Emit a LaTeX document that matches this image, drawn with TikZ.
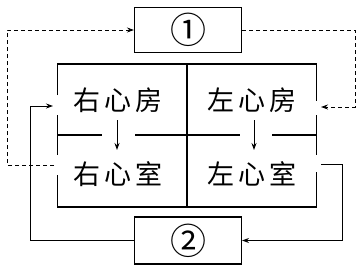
\documentclass[tikz,border=0pt]{standalone}
\usepackage{fontspec}
\newfontfamily\cjk{Noto Sans CJK SC}
\usetikzlibrary{arrows.meta}
\tikzset{
  box/.style={draw, line width=1.1pt, minimum width=107pt, minimum height=45pt, inner sep=0pt},
  wall/.style={line width=1.1pt},
  lbl/.style={inner sep=0pt, font=\cjk\fontsize{27}{27}\selectfont},
  num/.style={inner sep=0pt, font=\cjk\fontsize{36}{36}\selectfont},
  conn/.style={line width=0.9pt, -{Stealth[length=7pt,width=5pt]}},
  dconn/.style={conn, dash pattern=on 4pt off 3pt},
}
\begin{document}
\begin{tikzpicture}[x=1pt,y=-1pt]
\useasboundingbox (0,0) rectangle (362,268);
% boxes 1 and 2
\node[box] (b1) at (188,30) {};
\node[num] (n1) at (188,30) {①};
\node[box, minimum height=47pt] (b2) at (188,240.5) {};
\node[num] (n2) at (188,240.5) {②};
% heart chambers
\node[lbl] (ra) at (118,100) {右\hspace{4pt}心\hspace{4pt}房};
\node[lbl] (la) at (252,100) {左\hspace{4pt}心\hspace{4pt}房};
\node[lbl] (rv) at (118,174) {右\hspace{4pt}心\hspace{4pt}室};
\node[lbl] (lv) at (252,174) {左\hspace{4pt}心\hspace{4pt}室};
% walls
\draw[wall] (57.5,95) -- (57.5,64) -- (316.5,64) -- (316.5,101);
\draw[wall] (57.5,115) -- (57.5,155);
\draw[wall] (57.5,175) -- (57.5,207) -- (316.5,207) -- (316.5,172);
\draw[wall] (316.5,115) -- (316.5,155);
\draw[wall] (187,64) -- (187,207);
\draw[wall] (57.5,135) -- (102,135);
\draw[wall] (135,135) -- (240,135);
\draw[wall] (272,135) -- (316.5,135);
% internal arrows
\coordinate (raB) at (117,120);
\coordinate (rvT) at (117,150);
\coordinate (laB) at (254,120);
\coordinate (lvT) at (254,150);
\draw[conn] (raB) -- (rvT);
\draw[conn] (laB) -- (lvT);
% connectors
\coordinate (rvL) at (54,165);
\coordinate (laR) at (321,107);
\coordinate (raL) at (53,106);
\coordinate (lvR) at (321,164);
\draw[dconn] (rvL) -- (7,165) |- (b1.west);
\draw[dconn] (b1.east) -- (355,30) |- (laR);
\draw[conn] (b2.west) -- (30,240.5) |- (raL);
\draw[conn] (lvR) -- (342,164) |- (b2.east);
\end{tikzpicture}
\end{document}
